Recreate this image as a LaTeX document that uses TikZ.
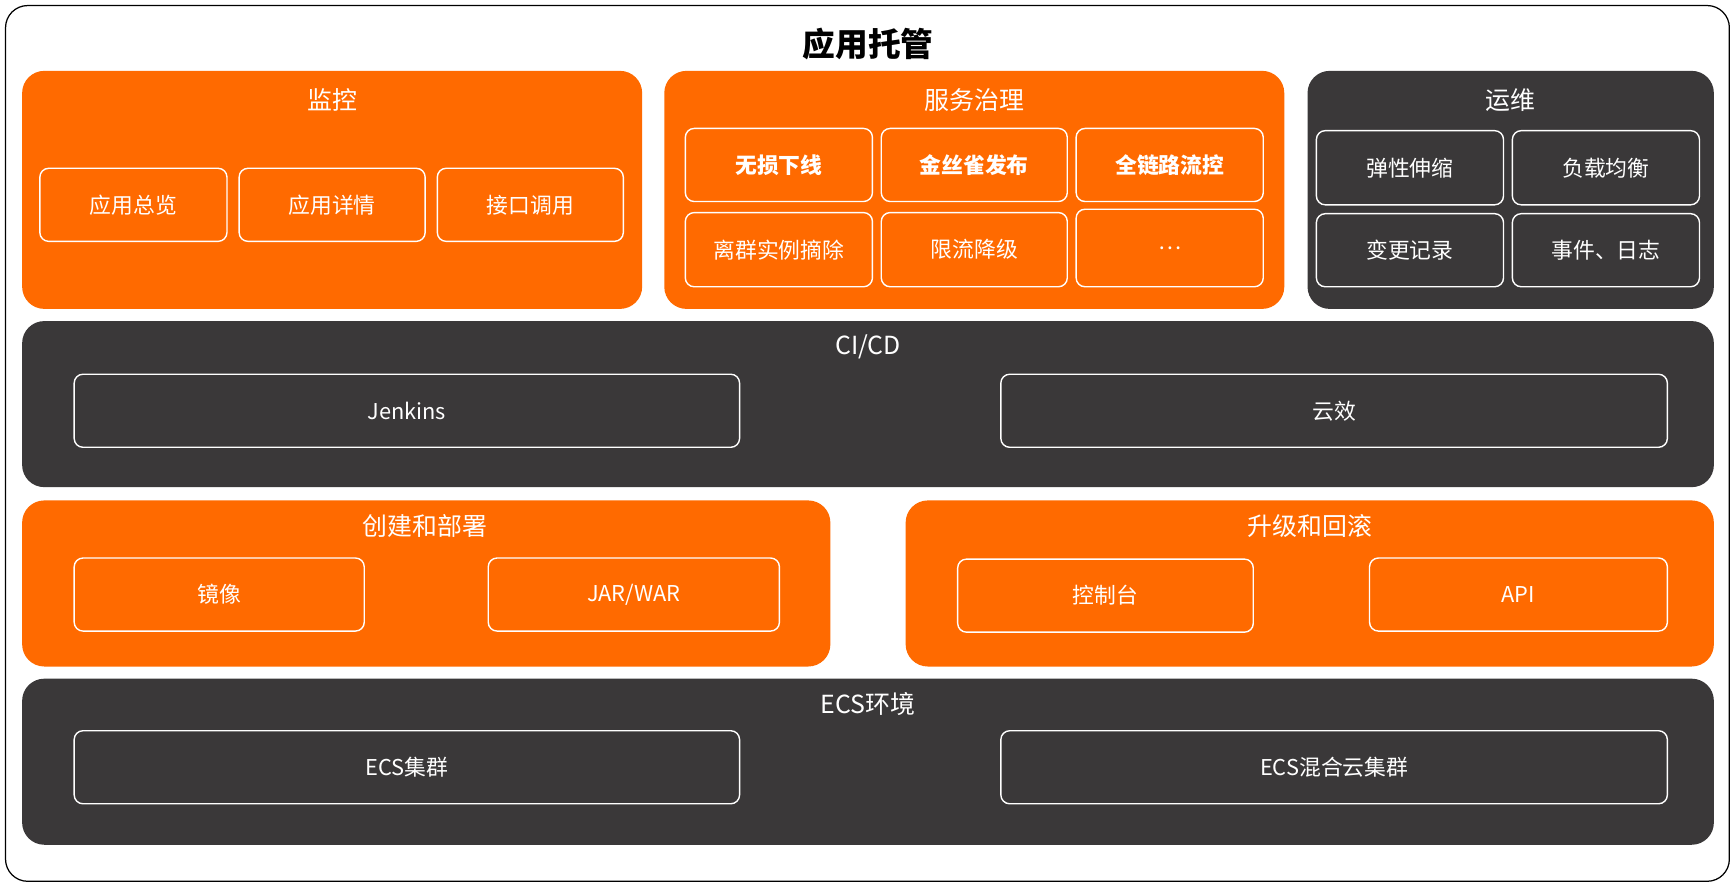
\documentclass[tikz,border=0pt]{standalone}
\usepackage{fontspec}
\setmainfont{Noto Sans CJK SC}
\usetikzlibrary{positioning}
\definecolor{aliorange}{HTML}{FF6A00}
\definecolor{alidark}{HTML}{3A3839}
\tikzset{
  panel/.style={rounded corners=0.5cm, inner sep=0pt},
  orangepanel/.style={panel, fill=aliorange},
  darkpanel/.style={panel, fill=alidark},
  item/.style={draw=white, line width=0.9pt, rounded corners=0.2cm, inner sep=0pt, text=white, font=\fontsize{14}{16}\selectfont},
  orangeitem/.style={item, fill=aliorange},
  darkitem/.style={item, fill=alidark},
  heading/.style={text=white, font=\fontsize{16}{18}\selectfont}
}
% box from pixel corners
\newcommand{\pxbox}[7]{%
  \pgfmathsetmacro\bw{(#4-#2)*0.025*28.4528}%
  \pgfmathsetmacro\bh{(#5-#3)*0.025*28.4528}%
  \node[#6, minimum width=\bw pt, minimum height=\bh pt] (#1) at ({(#2+#4)/2}, {-(#3+#5)/2}) {#7};}
\begin{document}
\begin{tikzpicture}[x=0.025cm, y=0.025cm]
  \useasboundingbox (0,0) rectangle (1568,-804);
  \draw[rounded corners=0.5cm, line width=0.8pt] (5,-5) rectangle (1562,-796);
  \node[font=\fontsize{21}{24}\selectfont\bfseries] (title) at (784,-40) {应用托管};

  % monitor
  \pxbox{mon}{20}{64}{580}{279}{orangepanel}{}
  \node[heading] (monT) at (300,-90) {监控};
  \pxbox{mon1}{36}{152}{205}{218}{orangeitem}{应用总览}
  \pxbox{mon2}{216}{152}{384}{218}{orangeitem}{应用详情}
  \pxbox{mon3}{395}{152}{563}{218}{orangeitem}{接口调用}

  % service governance
  \pxbox{svc}{600}{64}{1160}{279}{orangepanel}{}
  \node[heading] (svcT) at (880,-90) {服务治理};
  \pxbox{svc1}{619}{116}{788}{182}{orangeitem, font=\fontsize{14}{16}\selectfont\bfseries}{无损下线}
  \pxbox{svc2}{796}{116}{964}{182}{orangeitem, font=\fontsize{14}{16}\selectfont\bfseries}{金丝雀发布}
  \pxbox{svc3}{972}{116}{1141}{182}{orangeitem, font=\fontsize{14}{16}\selectfont\bfseries}{全链路流控}
  \pxbox{svc4}{619}{192}{788}{259}{orangeitem}{离群实例摘除}
  \pxbox{svc5}{796}{192}{964}{259}{orangeitem}{限流降级}
  \pxbox{svc6}{972}{189}{1141}{259}{orangeitem}{\ldots}

  % ops
  \pxbox{ops}{1181}{64}{1548}{279}{darkpanel}{}
  \node[heading] (opsT) at (1364,-90) {运维};
  \pxbox{ops1}{1189}{118}{1358}{185}{darkitem}{弹性伸缩}
  \pxbox{ops2}{1366}{118}{1535}{185}{darkitem}{负载均衡}
  \pxbox{ops3}{1189}{193}{1358}{259}{darkitem}{变更记录}
  \pxbox{ops4}{1366}{193}{1535}{259}{darkitem}{事件、日志}

  % CI/CD
  \pxbox{cicd}{20}{290}{1548}{440}{darkpanel}{}
  \node[heading] (cicdT) at (784,-313) {CI/CD};
  \pxbox{cicd1}{67}{338}{668}{404}{darkitem}{Jenkins}
  \pxbox{cicd2}{904}{338}{1506}{404}{darkitem}{云效}

  % create and deploy
  \pxbox{dep}{20}{452}{750}{602}{orangepanel}{}
  \node[heading] (depT) at (384,-475) {创建和部署};
  \pxbox{dep1}{67}{504}{329}{570}{orangeitem}{镜像}
  \pxbox{dep2}{441}{504}{704}{570}{orangeitem}{JAR/WAR}

  % upgrade and rollback
  \pxbox{upg}{818}{452}{1548}{602}{orangepanel}{}
  \node[heading] (upgT) at (1183,-475) {升级和回滚};
  \pxbox{upg1}{865}{505}{1132}{571}{orangeitem}{控制台}
  \pxbox{upg2}{1237}{504}{1506}{570}{orangeitem}{API}

  % ECS
  \pxbox{ecs}{20}{613}{1548}{763}{darkpanel}{}
  \node[heading] (ecsT) at (784,-636) {ECS环境};
  \pxbox{ecs1}{67}{660}{668}{726}{darkitem}{ECS集群}
  \pxbox{ecs2}{904}{660}{1506}{726}{darkitem}{ECS混合云集群}
\end{tikzpicture}
\end{document}
